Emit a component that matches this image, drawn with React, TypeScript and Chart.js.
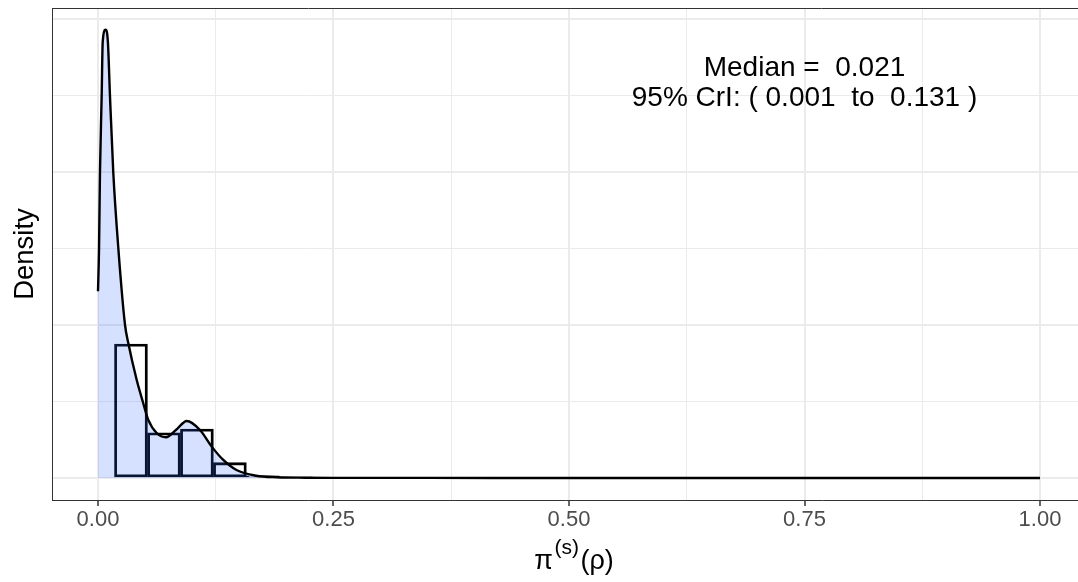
import { useEffect, useRef } from "react";
import { Chart, registerables } from "chart.js";

Chart.register(...registerables);

// ---- data ----
const densityX = [0, 0.0011, 0.0021, 0.0039, 0.005, 0.008, 0.0105, 0.0127, 0.0162, 0.0216, 0.0287, 0.0322, 0.0411, 0.0475, 0.0534, 0.0623, 0.0722, 0.083, 0.0942, 0.1083, 0.1207, 0.133, 0.147, 0.168, 0.19, 0.22, 0.26, 0.35, 0.5, 0.75, 1.0];
const densityY = [12.2, 15.0, 20.0, 25.0, 28.5, 29.3, 28.5, 25.0, 20.0, 15.0, 10.0, 8.8, 6.4, 5.0, 3.8, 2.94, 2.66, 3.15, 3.73, 3.14, 2.05, 1.18, 0.52, 0.15, 0.05, 0.02, 0.01, 0.005, 0.002, 0.001, 0.0];

const histCenters = [0.035, 0.07, 0.105, 0.14, 0.175, 0.21];
const histHeights = [8.76, 2.96, 3.2, 1.0, 0.15, 0.07];

const xMajorTicks = [0, 0.25, 0.5, 0.75, 1];
const xTickLabels = ["0.00", "0.25", "0.50", "0.75", "1.00"];
const xMinorTicks = [0.125, 0.375, 0.625, 0.875];
const yMajorTicks = [0, 10, 20, 30];
const yMinorTicks = [5, 15, 25];

const annotationX = 0.75;
const annotationY = [26.3, 24.3];
const annotationLines = ["Median =  0.021", "95% CrI: ( 0.001  to  0.131 )"];

const yTitle = "Density";
const xTitleParts = ["π", "(s)", "(ρ)"];

const FONT = '"Liberation Sans", Arial, Helvetica, sans-serif';

const isIn = (arr: number[], v: number) => arr.some((a) => Math.abs(a - v) < 1e-9);

const decorPlugin = {
  id: "decor",
  afterDraw(chart: any) {
    const { ctx, chartArea, scales } = chart;
    ctx.save();
    // top panel border
    ctx.strokeStyle = "#333333";
    ctx.lineWidth = 1;
    ctx.beginPath();
    ctx.moveTo(chartArea.left, chartArea.top + 0.5);
    ctx.lineTo(chartArea.right, chartArea.top + 0.5);
    ctx.stroke();

    // annotation
    ctx.fillStyle = "#000000";
    ctx.font = `28px ${FONT}`;
    ctx.textAlign = "center";
    ctx.textBaseline = "alphabetic";
    const ax = scales.x.getPixelForValue(annotationX);
    annotationLines.forEach((t, i) => {
      ctx.fillText(t, ax, scales.y.getPixelForValue(annotationY[i]));
    });

    // y title
    ctx.save();
    ctx.translate(33, (chartArea.top + chartArea.bottom) / 2);
    ctx.rotate(-Math.PI / 2);
    ctx.font = `27.5px ${FONT}`;
    ctx.textAlign = "center";
    ctx.fillText(yTitle, 0, 0);
    ctx.restore();

    // x title with superscript
    const mainFont = `27px ${FONT}`;
    const supFont = `21px ${FONT}`;
    ctx.textAlign = "left";
    ctx.font = mainFont;
    const w0 = ctx.measureText(xTitleParts[0]).width;
    const w2 = ctx.measureText(xTitleParts[2]).width;
    ctx.font = supFont;
    const w1 = ctx.measureText(xTitleParts[1]).width;
    const gap = 1.5;
    const total = w0 + w1 + w2 + gap * 2;
    let x = 574 - total / 2;
    const base = 569;
    ctx.font = mainFont;
    ctx.fillText(xTitleParts[0], x, base);
    x += w0 + gap;
    ctx.font = supFont;
    ctx.fillText(xTitleParts[1], x, base - 15);
    x += w1 + gap;
    ctx.font = mainFont;
    ctx.fillText(xTitleParts[2], x, base);
    ctx.restore();
  },
};

export default function App() {
  const ref = useRef<HTMLCanvasElement>(null);
  useEffect(() => {
    const chart = new Chart(ref.current as HTMLCanvasElement, {
      type: "bar",
      data: {
        datasets: [
          {
            type: "line",
            data: densityX.map((x, i) => ({ x, y: densityY[i] })),
            borderColor: "#000000",
            borderWidth: 2.4,
            pointRadius: 0,
            fill: "origin",
            backgroundColor: "rgba(51,102,255,0.2)",
            cubicInterpolationMode: "monotone",
            order: 0,
          } as any,
          {
            type: "bar",
            data: histCenters.map((x, i) => ({ x, y: histHeights[i] })),
            backgroundColor: "rgba(0,0,0,0)",
            borderColor: "#000000",
            borderWidth: 2.2,
            borderSkipped: false,
            barPercentage: 1,
            categoryPercentage: 1,
            order: 1,
          } as any,
        ],
      },
      options: {
        animation: false,
        responsive: false,
        events: [],
        layout: { padding: { top: 8, left: 0, right: 0, bottom: 0 } },
        plugins: {
          legend: { display: false },
          tooltip: { enabled: false },
          title: { display: false },
        },
        scales: {
          x: {
            type: "linear",
            min: (52 - 98) / 942,
            max: (1078 - 98) / 942,
            offset: false,
            afterBuildTicks: (scale: any) => {
              scale.ticks = [...xMajorTicks, ...xMinorTicks].sort((a, b) => a - b).map((v) => ({ value: v }));
            },
            afterFit: (scale: any) => {
              scale.height = 82;
            },
            ticks: {
              autoSkip: false,
              maxRotation: 0,
              padding: 1,
              color: "#4D4D4D",
              font: { family: FONT, size: 22 },
              callback: (value: any) => {
                const idx = xMajorTicks.findIndex((m) => Math.abs(m - value) < 1e-9);
                return idx >= 0 ? xTickLabels[idx] : "";
              },
            },
            grid: {
              offset: false,
              color: "#EBEBEB",
              lineWidth: (c: any) => (isIn(xMajorTicks, c.tick?.value) ? 2 : 1),
              tickColor: (c: any) => (isIn(xMajorTicks, c.tick?.value) ? "#333333" : "rgba(0,0,0,0)"),
              tickWidth: (c: any) => (isIn(xMajorTicks, c.tick?.value) ? 1.5 : 0),
              tickLength: 6,
              drawTicks: true,
            },
            border: { display: true, color: "#333333", width: 1 },
          },
          y: {
            type: "linear",
            min: -22 / 15.3,
            max: 470 / 15.3,
            afterBuildTicks: (scale: any) => {
              scale.ticks = [...yMajorTicks, ...yMinorTicks].sort((a, b) => a - b).map((v) => ({ value: v }));
            },
            afterFit: (scale: any) => {
              scale.width = 52;
            },
            ticks: { display: false },
            grid: {
              color: "#EBEBEB",
              lineWidth: (c: any) => (isIn(yMajorTicks, c.tick?.value) ? 2 : 1),
              drawTicks: false,
            },
            border: { display: true, color: "#333333", width: 1 },
          },
        },
      } as any,
      plugins: [decorPlugin],
    });
    return () => chart.destroy();
  }, []);
  return (
    <div style={{ position: "fixed", left: 0, top: 0, width: 1078, height: 582, background: "#ffffff" }}>
      <canvas ref={ref} width={1078} height={582} style={{ display: "block" }} />
    </div>
  );
}
